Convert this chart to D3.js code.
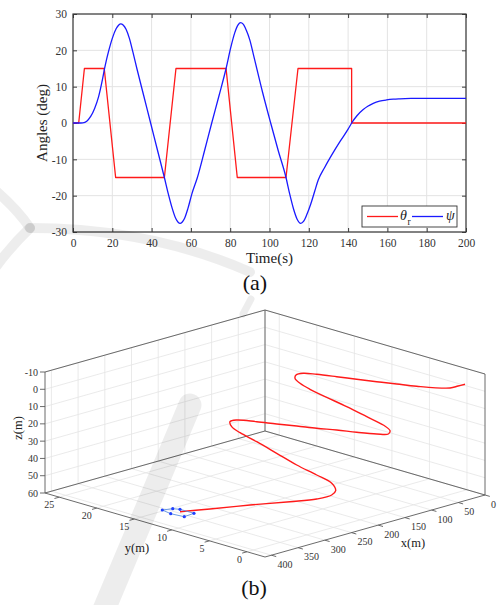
<!DOCTYPE html>
<html><head><meta charset="utf-8">
<script src="https://cdn.jsdelivr.net/npm/d3@7"></script>
<style>html,body{margin:0;padding:0;background:#fff;} svg{display:block;}</style>
</head><body>
<svg id="c" width="501" height="605"></svg>
<script>
// ---------- data: panel (a) ----------
const timeTicks = [0,20,40,60,80,100,120,140,160,180,200];
const angleTicks = [-30,-20,-10,0,10,20,30];
const thetaT = [0,2.9,5.8,15.9,21.7,46.5,52.4,77.9,83.6,108.4,114.5,141.8,141.8,200];
const thetaV = [0,0,15,15,-15,-15,15,15,-15,-15,15,15,0,0];
const psiT = [0,3,5,7,9,11,13,15,16,17,18,20,22,23.3,24.3,25.5,27,28.7,30.5,32.5,36,39.5,43,46.5,48.5,50.5,52.3,53.5,54.5,55.5,56.8,58.5,60.5,63.3,67,70.6,74.3,77.9,80.3,82.3,84,85.3,86.6,88.2,90,92,96.5,100.6,104.5,108.4,110.3,112.2,114,115.9,117.3,119,121,123,124.8,128,132,136,140,141.8,144.5,147.7,150,152.8,156,159.6,163,166.4,172,180,190,200];
const psiV = [0,0,0.05,0.5,1.8,4.0,7.2,12.0,14.8,17.3,19.5,23.3,26.0,27.0,27.3,27.0,25.8,23.3,19.5,15,7.5,0,-7.5,-15,-19.5,-23.5,-26.3,-27.3,-27.6,-27.3,-26.2,-23.5,-19.5,-15,-7.5,0,7.5,15,20.8,24.8,27.0,27.6,27.2,25.5,22.8,18.4,8.4,0,-7.7,-15,-19.6,-23.6,-26.4,-27.6,-27.1,-25.2,-22.3,-18.8,-15.7,-12.3,-8.5,-5.0,-1.7,0,2.0,3.7,4.6,5.4,6.0,6.35,6.55,6.65,6.75,6.8,6.8,6.8];

// ---------- data: panel (b) ----------
const xTicks3 = [0,50,100,150,200,250,300,350,400];
const yTicks3 = [0,5,10,15,20,25];
const zTicks3 = [-10,0,10,20,30,40,50,60];
const pathX = [0,10,20,38,44,50,56,62,68,74,79,82,86,92,100,108,116,124,132,138,144,150,156,162,168,174,180,188,198,204,210,218,228,238,248,260,274,286,298,316,344,372,394];
const pathY = [0.26,0.48,0.84,4.0,6.23,8.47,10.71,12.94,15.18,16.54,17.15,17.07,16.12,14.37,11.57,8.34,5.10,2.33,0.86,0.66,1.78,4.02,6.26,8.49,10.73,12.97,15.2,17.3,17.48,16.83,15.29,12.5,9.13,5.75,2.38,-0.48,-2.0,-2.32,-1.18,1.1,4.43,7.77,10.2];
const pathZ = [-0.68,-0.29,0.45,1.89,2.86,3.83,4.75,5.55,6.47,7.08,8.41,9.95,11.3,12.03,12.43,13.09,14.08,14.68,15.44,16.56,17.46,18.78,19.76,21.08,22.05,23.2,24.17,25.14,25.48,27.02,28.04,29.02,30.59,32.22,32.88,33.02,34.16,35.2,37.92,40.79,44.47,48.56,51.29];
const hullX = [394,394,394,394,394,394];
const hullY = [12.56,11.17,10.2,8.34,9.63,11.44];
const hullZ = [53.28,50.77,49.9,49.85,53.45,54.01];

const SERIF = "'Liberation Serif','Times New Roman',serif";
const svg = d3.select("#c");
svg.append("rect").attr("width",501).attr("height",605).attr("fill","#fff");

// ================= panel (a) =================
const A = {l:73, r:466, t:14, b:232};
const xa = d3.scaleLinear().domain([0,200]).range([A.l,A.r]);
const ya = d3.scaleLinear().domain([-30,30]).range([A.b,A.t]);
const ga = svg.append("g");

ga.append("g").selectAll("line").data(timeTicks).join("line")
  .attr("x1",d=>xa(d)).attr("x2",d=>xa(d)).attr("y1",A.t).attr("y2",A.b)
  .attr("stroke","#e3e3e3").attr("stroke-width",1);
ga.append("g").selectAll("line").data(angleTicks).join("line")
  .attr("y1",d=>ya(d)).attr("y2",d=>ya(d)).attr("x1",A.l).attr("x2",A.r)
  .attr("stroke","#e3e3e3").attr("stroke-width",1);

function styleAxis(g, fs){
  g.attr("font-family",SERIF);
  g.select(".domain").remove();
  g.selectAll(".tick line").attr("stroke","#3a3a3a").attr("stroke-width",1);
  g.selectAll(".tick text").attr("fill","#333").attr("font-family",SERIF).attr("font-size",fs);
}
ga.append("g").attr("transform",`translate(0,${A.b})`)
  .call(d3.axisBottom(xa).tickValues(timeTicks).tickSizeInner(-4).tickSizeOuter(0).tickPadding(7).tickFormat(d=>String(d)))
  .call(g=>styleAxis(g,11.5));
ga.append("g").attr("transform",`translate(${A.l},0)`)
  .call(d3.axisLeft(ya).tickValues(angleTicks).tickSizeInner(-4).tickSizeOuter(0).tickPadding(6).tickFormat(d=>String(d)))
  .call(g=>styleAxis(g,11.5));
ga.append("g").attr("transform",`translate(0,${A.t})`)
  .call(d3.axisTop(xa).tickValues(timeTicks).tickSizeInner(-4).tickSizeOuter(0).tickFormat(""))
  .call(g=>styleAxis(g,11.5));
ga.append("g").attr("transform",`translate(${A.r},0)`)
  .call(d3.axisRight(ya).tickValues(angleTicks).tickSizeInner(-4).tickSizeOuter(0).tickFormat(""))
  .call(g=>styleAxis(g,11.5));
ga.append("rect").attr("x",A.l).attr("y",A.t).attr("width",A.r-A.l).attr("height",A.b-A.t)
  .attr("fill","none").attr("stroke","#3a3a3a").attr("stroke-width",1.2);

const thetaLine = d3.line().x(i=>xa(thetaT[i])).y(i=>ya(thetaV[i]));
const psiLine = d3.line().x(i=>xa(psiT[i])).y(i=>ya(psiV[i])).curve(d3.curveMonotoneX);
ga.append("path").attr("d",thetaLine(d3.range(thetaT.length))).attr("fill","none")
  .attr("stroke","#ff1a1a").attr("stroke-width",1.3).attr("stroke-linejoin","round");
ga.append("path").attr("d",psiLine(d3.range(psiT.length))).attr("fill","none")
  .attr("stroke","#1a1aff").attr("stroke-width",1.3);

// labels
ga.append("text").attr("x",(A.l+A.r)/2).attr("y",263).attr("text-anchor","middle")
  .attr("font-family",SERIF).attr("font-size",15).attr("fill","#222").text("Time(s)");
ga.append("text").attr("transform",`translate(47,${(A.t+A.b)/2}) rotate(-90)`).attr("text-anchor","middle")
  .attr("font-family",SERIF).attr("font-size",15).attr("fill","#222").text("Angles (deg)");
svg.append("text").attr("x",255).attr("y",290).attr("text-anchor","middle")
  .attr("font-family",SERIF).attr("font-size",22).attr("fill","#111").text("(a)");

// legend
const lg = ga.append("g");
lg.append("rect").attr("x",362).attr("y",206).attr("width",95).attr("height",21)
  .attr("fill","#fff").attr("stroke","#333").attr("stroke-width",0.9);
lg.append("line").attr("x1",367).attr("x2",398).attr("y1",216.5).attr("y2",216.5).attr("stroke","#ff1a1a").attr("stroke-width",1.3);
lg.append("text").attr("x",400).attr("y",220).attr("font-family",SERIF).attr("font-style","italic")
  .attr("font-size",14).attr("fill","#222").text("θ");
lg.append("text").attr("x",407.5).attr("y",225).attr("font-family",SERIF)
  .attr("font-size",9.5).attr("fill","#222").text("r");
lg.append("line").attr("x1",412).attr("x2",443).attr("y1",216.5).attr("y2",216.5).attr("stroke","#1a1aff").attr("stroke-width",1.3);
lg.append("text").attr("x",446).attr("y",220).attr("font-family",SERIF).attr("font-style","italic")
  .attr("font-size",14).attr("fill","#222").text("ψ");

// ================= panel (b) =================
const X3 = d3.scaleLinear().domain([0,412]).range([0,1]);
const Y3 = d3.scaleLinear().domain([-2.4,26.9]).range([0,1]);
const Z3 = d3.scaleLinear().domain([60,-10]).range([0,1]);
const O = [485,495], EX = [-220,62], EY = [-220,-64], H = 121;
function P(x,y,z){
  const a=X3(x), b=Y3(y), c=Z3(z);
  return [O[0]+a*EX[0]+b*EY[0], O[1]+a*EX[1]+b*EY[1]-c*H];
}
const [X0,X1] = X3.domain(), [Y0,Y1] = Y3.domain(), ZB = 60, ZT = -10;
const gb = svg.append("g");
function seg(g,p,q,stroke,w){
  const a=P(...p), b=P(...q);
  g.append("line").attr("x1",a[0]).attr("y1",a[1]).attr("x2",b[0]).attr("y2",b[1])
    .attr("stroke",stroke).attr("stroke-width",w);
}
const GC = "#e4e4e4", GW = 0.8;
const grid = gb.append("g");
xTicks3.forEach(x=>{ seg(grid,[x,Y0,ZB],[x,Y1,ZB],GC,GW); seg(grid,[x,Y1,ZB],[x,Y1,ZT],GC,GW); });
yTicks3.forEach(y=>{ seg(grid,[X0,y,ZB],[X1,y,ZB],GC,GW); seg(grid,[X0,y,ZB],[X0,y,ZT],GC,GW); });
zTicks3.forEach(z=>{ seg(grid,[X0,Y1,z],[X1,Y1,z],GC,GW); seg(grid,[X0,Y0,z],[X0,Y1,z],GC,GW); });

const EC = "#5a5a5a", EW = 0.9;
const edges = gb.append("g");
seg(edges,[X1,Y1,ZB],[X1,Y1,ZT],EC,EW);
seg(edges,[X0,Y1,ZB],[X0,Y1,ZT],EC,EW);
seg(edges,[X0,Y0,ZB],[X0,Y0,ZT],EC,EW);
seg(edges,[X1,Y1,ZT],[X0,Y1,ZT],EC,EW);
seg(edges,[X0,Y1,ZT],[X0,Y0,ZT],EC,EW);
seg(edges,[X1,Y1,ZB],[X0,Y1,ZB],EC,EW);
seg(edges,[X0,Y1,ZB],[X0,Y0,ZB],EC,EW);
seg(edges,[X1,Y1,ZB],[X1,Y0,ZB],EC,EW);
seg(edges,[X1,Y0,ZB],[X0,Y0,ZB],EC,EW);

// ticks + labels
const tl = gb.append("g").attr("font-family",SERIF).attr("font-size",10).attr("fill","#333");
const ux = [220/Math.hypot(220,64), 64/Math.hypot(220,64)];
const uy = [EX[0]/Math.hypot(...EX), EX[1]/Math.hypot(...EX)];
xTicks3.forEach(x=>{
  const p=P(x,Y0,ZB);
  tl.append("line").attr("x1",p[0]).attr("y1",p[1]).attr("x2",p[0]+ux[0]*5).attr("y2",p[1]+ux[1]*5).attr("stroke",EC).attr("stroke-width",EW);
  tl.append("text").attr("x",p[0]+6).attr("y",p[1]+9).attr("dy","0.35em").text(String(x));
});
yTicks3.forEach(y=>{
  const p=P(X1,y,ZB);
  tl.append("line").attr("x1",p[0]).attr("y1",p[1]).attr("x2",p[0]+uy[0]*5).attr("y2",p[1]+uy[1]*5).attr("stroke",EC).attr("stroke-width",EW);
  tl.append("text").attr("x",p[0]-5).attr("y",p[1]+7.5).attr("dy","0.35em").attr("text-anchor","end").text(String(y));
});
zTicks3.forEach(z=>{
  const p=P(X1,Y1,z);
  tl.append("line").attr("x1",p[0]).attr("y1",p[1]).attr("x2",p[0]-5).attr("y2",p[1]).attr("stroke",EC).attr("stroke-width",EW);
  tl.append("text").attr("x",p[0]-7).attr("y",p[1]).attr("dy","0.35em").attr("text-anchor","end").text(String(z));
});
const al = gb.append("g").attr("font-family",SERIF).attr("font-size",12.5).attr("fill","#222");
al.append("text").attr("x",413).attr("y",547).attr("text-anchor","middle").text("x(m)");
al.append("text").attr("x",137).attr("y",552).attr("text-anchor","middle").text("y(m)");
al.append("text").attr("transform","translate(22,428) rotate(-90)").attr("text-anchor","middle").text("z(m)");
svg.append("text").attr("x",254).attr("y",595).attr("text-anchor","middle")
  .attr("font-family",SERIF).attr("font-size",22).attr("fill","#111").text("(b)");

// trajectory
const traj = d3.range(pathX.length).map(i=>P(pathX[i],pathY[i],pathZ[i]));
gb.append("path").attr("d",d3.line().curve(d3.curveCatmullRom.alpha(0.5))(traj))
  .attr("fill","none").attr("stroke","#ff1a1a").attr("stroke-width",1.4);
// vehicle hull
const hull = d3.range(hullX.length).map(i=>P(hullX[i],hullY[i],hullZ[i]));
gb.append("path").attr("d",d3.line().curve(d3.curveLinearClosed)(hull))
  .attr("fill","none").attr("stroke","#5b8fe0").attr("stroke-width",0.9);
gb.append("g").selectAll("circle").data(hull).join("circle")
  .attr("cx",d=>d[0]).attr("cy",d=>d[1]).attr("r",1.6).attr("fill","#2040ff");

// ================= faint background swooshes (watermark strokes) =================
const ws = svg.append("g").attr("fill","none").attr("stroke","#000").attr("stroke-opacity",0.07).attr("stroke-linecap","round");
ws.append("path").attr("d","M190,405 L103,612").attr("stroke-width",23);
ws.append("path").attr("d","M251,299 L243,314").attr("stroke-width",7);
ws.append("path").attr("d","M-5,190 Q18,210 30,228").attr("stroke-width",10);
ws.append("path").attr("d","M30,228 Q12,245 -5,268").attr("stroke-width",10);
ws.append("path").attr("d","M30,228 Q150,228 250,272").attr("stroke-width",10);
</script>
</body></html>
